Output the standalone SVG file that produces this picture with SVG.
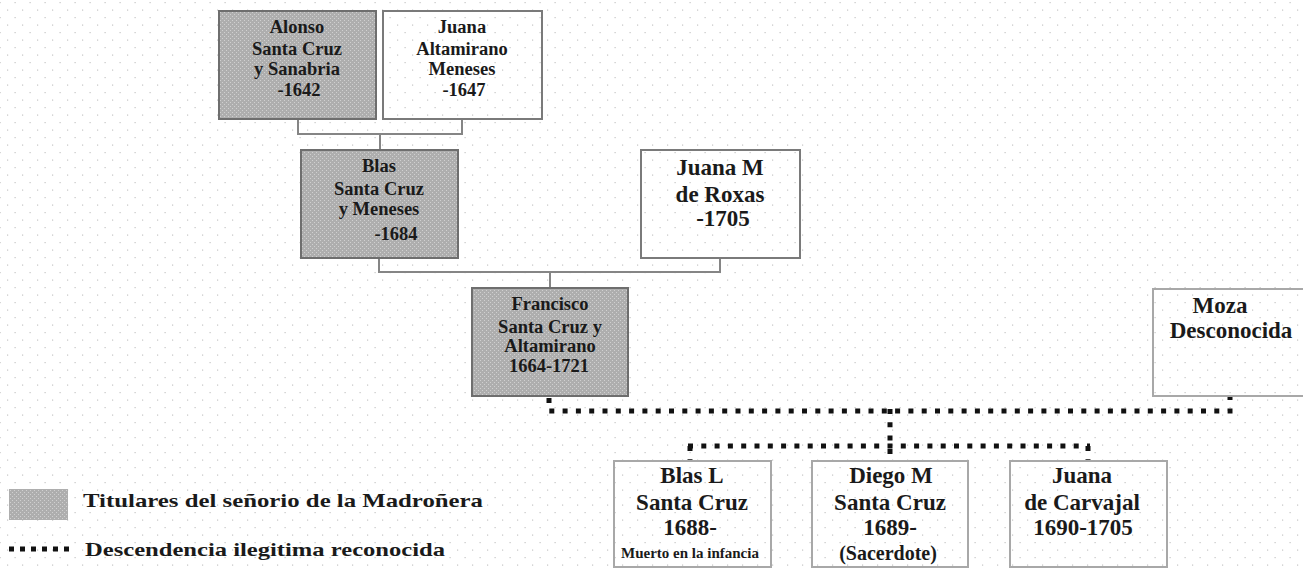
<svg xmlns="http://www.w3.org/2000/svg" width="1303" height="570" viewBox="0 0 1303 570">
<defs>
<pattern id="grid" x="0" y="0" width="15" height="15" patternUnits="userSpaceOnUse">
<rect x="7" y="9.5" width="1.2" height="1.2" fill="#c4c4c4"/>
<rect x="-0.5" y="2" width="1.2" height="1.2" fill="#c4c4c4"/>
<rect x="14.5" y="2" width="1.2" height="1.2" fill="#c4c4c4"/>
</pattern>
<pattern id="dither" x="0" y="0" width="4" height="4" patternUnits="userSpaceOnUse">
<rect width="4" height="4" fill="#aeaeae"/>
<rect x="0" y="0" width="1" height="1" fill="#d0d0d0"/>
<rect x="2" y="2" width="1" height="1" fill="#d0d0d0"/>
</pattern>
</defs>
<style>
.t{font-family:"Liberation Serif","Times New Roman",serif;font-weight:bold;fill:#1a1a1a;text-anchor:middle}
.s{font-size:18.5px}
.l{font-size:23px}
.gray{fill:url(#dither);stroke:#6e6e6e;stroke-width:2}
.white{fill:none;stroke:#7a7a7a;stroke-width:2}
.light{fill:none;stroke:#a8a8a8;stroke-width:2}
.solid{fill:none;stroke:#858585;stroke-width:2}
.dots{fill:none;stroke:#111;stroke-width:5;stroke-linecap:butt;stroke-dasharray:5 8.3}
</style>
<rect width="1303" height="570" fill="#fff"/>
<rect width="1303" height="570" fill="url(#grid)"/>

<g id="connectors">
<path class="solid" d="M298,119 V134 H462 V119 M380,134 V150"/>
<path class="solid" d="M379,258 V272 H720 V258 M550,272 V288"/>
<path class="dots" d="M549,398 V411 H1230 V397"/>
<path class="dots" d="M890,409 V461"/>
<path class="dots" d="M688,446 H1090"/>
<path class="dots" d="M690,446 V461"/>
<path class="dots" d="M1088,446 V461"/>
</g>

<g id="alonso">
<rect class="gray" x="219" y="11" width="157" height="108"/>
<text class="t s" x="297" y="33">Alonso</text>
<text class="t s" x="297" y="54.5">Santa Cruz</text>
<text class="t s" x="297" y="75">y Sanabria</text>
<text class="t s" x="299" y="96">-1642</text>
</g>

<g id="juana-altamirano">
<rect class="white" x="383" y="11" width="159" height="108"/>
<text class="t s" x="462" y="33">Juana</text>
<text class="t s" x="462" y="54.5">Altamirano</text>
<text class="t s" x="462" y="75">Meneses</text>
<text class="t s" x="464" y="96">-1647</text>
</g>

<g id="blas">
<rect class="gray" x="301" y="150" width="157" height="108"/>
<text class="t s" x="379" y="172">Blas</text>
<text class="t s" x="379" y="195">Santa Cruz</text>
<text class="t s" x="379" y="215">y Meneses</text>
<text class="t s" x="396" y="240">-1684</text>
</g>

<g id="juana-roxas">
<rect class="white" x="641" y="150" width="159" height="108"/>
<text class="t l" x="720" y="175">Juana M</text>
<text class="t l" x="720" y="202">de Roxas</text>
<text class="t l" x="723" y="226">-1705</text>
</g>

<g id="francisco">
<rect class="gray" x="472" y="288" width="156" height="108"/>
<text class="t s" x="550" y="310">Francisco</text>
<text class="t s" x="550" y="333">Santa Cruz y</text>
<text class="t s" x="550" y="352">Altamirano</text>
<text class="t s" x="549" y="372">1664-1721</text>
</g>

<g id="moza">
<rect class="light" x="1153" y="289" width="160" height="107"/>
<text class="t l" x="1220" y="313">Moza</text>
<text class="t l" x="1231" y="338">Desconocida</text>
</g>

<g id="blas-l">
<rect class="light" x="614" y="461" width="157" height="106"/>
<text class="t l" x="692" y="483">Blas L</text>
<text class="t l" x="692" y="510">Santa Cruz</text>
<text class="t l" x="690" y="535">1688-</text>
<text class="t" x="690" y="558" style="font-size:15px">Muerto en la infancia</text>
</g>

<g id="diego-m">
<rect class="light" x="812" y="461" width="156" height="106"/>
<text class="t l" x="891" y="483">Diego M</text>
<text class="t l" x="890" y="510">Santa Cruz</text>
<text class="t l" x="890" y="535">1689-</text>
<text class="t" x="888" y="560" style="font-size:20px">(Sacerdote)</text>
</g>

<g id="juana-carvajal">
<rect class="light" x="1010" y="461" width="157" height="106"/>
<text class="t l" x="1082" y="483">Juana</text>
<text class="t l" x="1082" y="510">de Carvajal</text>
<text class="t l" x="1083" y="535">1690-1705</text>
</g>

<g id="legend">
<rect x="9" y="489" width="59" height="31" fill="url(#dither)"/>
<text class="t" x="83" y="507" textLength="400" lengthAdjust="spacingAndGlyphs" style="font-size:19px;text-anchor:start">Titulares del señorio de la Madroñera</text>
<path class="dots" d="M9,549 H69" style="stroke-dasharray:5 6"/>
<text class="t" x="85" y="556" textLength="360" lengthAdjust="spacingAndGlyphs" style="font-size:19px;text-anchor:start">Descendencia ilegitima reconocida</text>
</g>
</svg>
